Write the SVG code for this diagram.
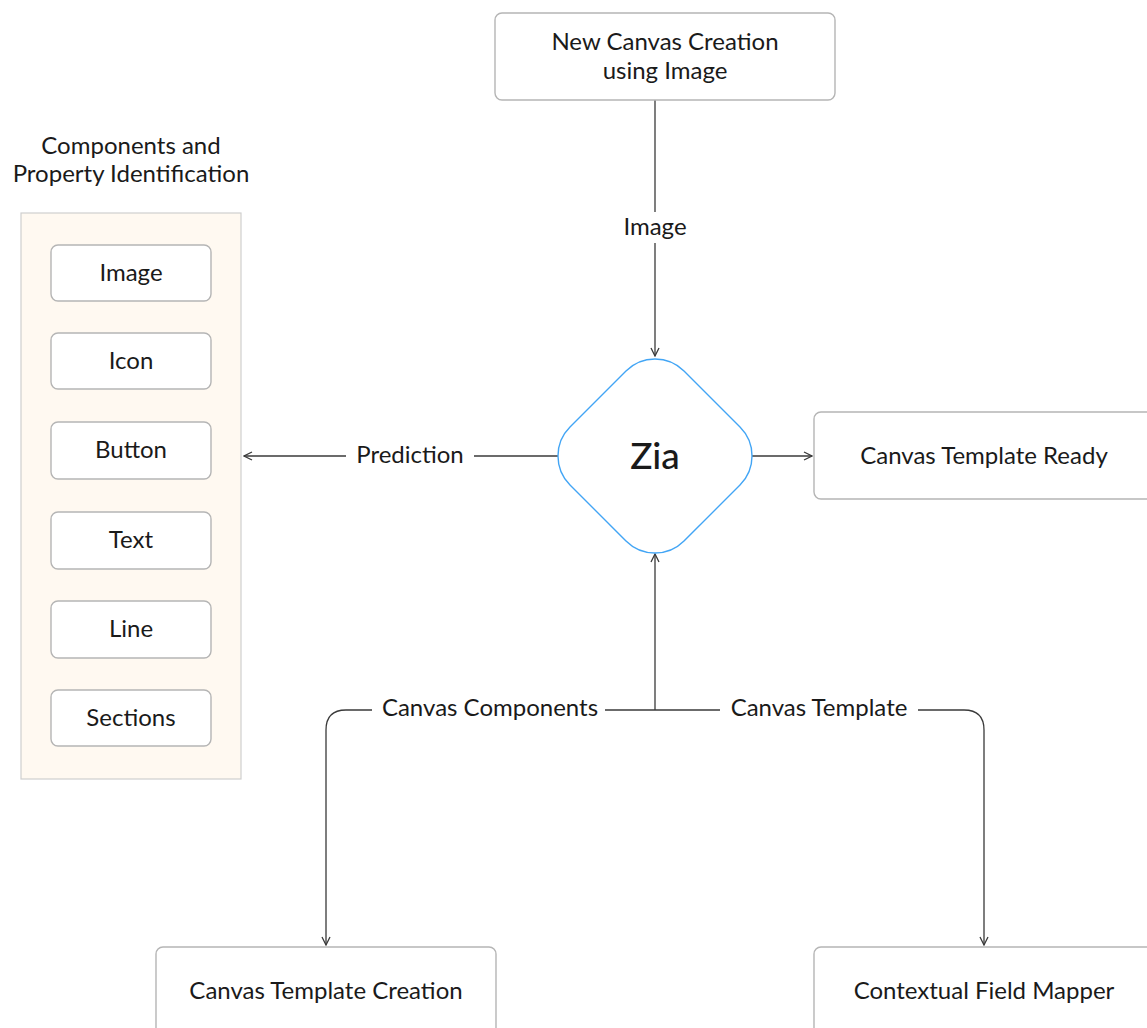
<svg xmlns="http://www.w3.org/2000/svg" width="1147" height="1028" viewBox="0 0 1147 1028">
<style>
text{font-family:Lato,"Noto Sans","Liberation Sans",sans-serif;fill:#1a1a1a;text-anchor:middle;dominant-baseline:central}
.box{fill:#fff;stroke:#b5b5b5;stroke-width:1.4}
.t{font-size:24px}
.c{fill:none;stroke:#3a3a3a;stroke-width:1.3}
</style>
<defs>
<marker id="ah" viewBox="0 0 10 10" refX="9" refY="5" markerWidth="10" markerHeight="10" markerUnits="userSpaceOnUse" orient="auto">
<path d="M1,1 L9,5 L1,9" fill="none" stroke="#3a3a3a" stroke-width="1.3"/>
</marker>
</defs>
<rect width="1147" height="1028" fill="#fff"/>
<g id="connectors">
<path class="c" d="M655,100 V212"/>
<path class="c" d="M655,243 V356" marker-end="url(#ah)"/>
<path class="c" d="M558,456 H474"/>
<path class="c" d="M346,456 H244" marker-end="url(#ah)"/>
<path class="c" d="M752,456 H812" marker-end="url(#ah)"/>
<path class="c" d="M655,710 V554" marker-end="url(#ah)"/>
<path class="c" d="M605,710 H720"/>
<path class="c" d="M372,710 H346 Q326,710 326,730 V945" marker-end="url(#ah)"/>
<path class="c" d="M918,710 H964 Q984,710 984,730 V945" marker-end="url(#ah)"/>
<text class="t" x="655" y="225">Image</text>
<text class="t" x="410" y="453">Prediction</text>
<text class="t" x="490" y="706">Canvas Components</text>
<text class="t" x="819" y="706">Canvas Template</text>
</g>
<g id="new-canvas">
<rect class="box" x="495" y="13" width="340" height="87" rx="7"/>
<text class="t" x="665" y="40">New Canvas Creation</text>
<text class="t" x="665" y="69">using Image</text>
</g>
<g id="zia">
<path d="M626,371 A41,41 0 0 1 684,371 L740,427 A41,41 0 0 1 740,485 L684,541 A41,41 0 0 1 626,541 L570,485 A41,41 0 0 1 570,427 Z" fill="#fff" stroke="#42a5f5" stroke-width="1.4"/>
<text x="655" y="454" font-size="37" font-weight="500">Zia</text>
</g>
<g id="template-ready">
<rect class="box" x="814" y="412" width="345" height="87" rx="7"/>
<text class="t" x="984" y="454">Canvas Template Ready</text>
</g>
<g id="components-panel">
<text class="t" x="131" y="144">Components and</text>
<text class="t" x="131" y="172">Property Identification</text>
<rect x="21" y="213" width="220" height="566" fill="#fff9f1" stroke="#cfcfcf" stroke-width="1.2"/>
</g>
<g id="c-image"><rect class="box" x="51" y="245" width="160" height="56" rx="7"/><text class="t" x="131" y="271">Image</text></g>
<g id="c-icon"><rect class="box" x="51" y="333" width="160" height="56" rx="7"/><text class="t" x="131" y="359">Icon</text></g>
<g id="c-button"><rect class="box" x="51" y="422" width="160" height="57" rx="7"/><text class="t" x="131" y="448">Button</text></g>
<g id="c-text"><rect class="box" x="51" y="512" width="160" height="57" rx="7"/><text class="t" x="131" y="538">Text</text></g>
<g id="c-line"><rect class="box" x="51" y="601" width="160" height="57" rx="7"/><text class="t" x="131" y="627">Line</text></g>
<g id="c-sections"><rect class="box" x="51" y="690" width="160" height="56" rx="7"/><text class="t" x="131" y="716">Sections</text></g>
<g id="template-creation">
<rect class="box" x="156" y="947" width="340" height="100" rx="7"/>
<text class="t" x="326" y="989">Canvas Template Creation</text>
</g>
<g id="field-mapper">
<rect class="box" x="814" y="947" width="345" height="100" rx="7"/>
<text class="t" x="984" y="989">Contextual Field Mapper</text>
</g>
</svg>
